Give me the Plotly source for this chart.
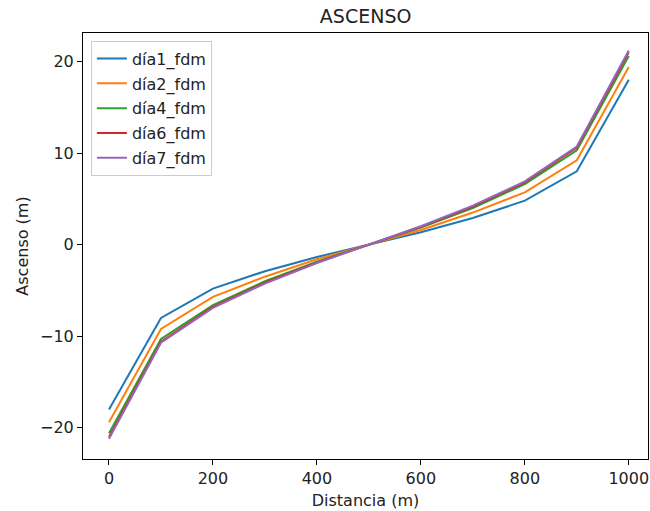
import plotly.graph_objects as go

# Distance along the profile (m)
distancia = [0, 100, 200, 300, 400, 500, 600, 700, 800, 900, 1000]

# Rise (m) for each day, finite-difference solution
dia1_fdm = [-18.0, -8.0, -4.8, -2.9, -1.35, 0.0, 1.35, 2.9, 4.8, 8.0, 18.0]
dia2_fdm = [-19.4, -9.2, -5.7, -3.5, -1.6, 0.0, 1.6, 3.5, 5.7, 9.2, 19.4]
dia4_fdm = [-20.6, -10.3, -6.6, -4.0, -1.85, 0.0, 1.85, 4.0, 6.6, 10.3, 20.6]
dia6_fdm = [-21.0, -10.6, -6.8, -4.15, -1.95, 0.0, 1.95, 4.15, 6.8, 10.6, 21.0]
dia7_fdm = [-21.2, -10.7, -6.9, -4.25, -2.0, 0.0, 2.0, 4.25, 6.9, 10.7, 21.2]

series = [
    ("día1_fdm", dia1_fdm, "#1f77b4"),
    ("día2_fdm", dia2_fdm, "#ff7f0e"),
    ("día4_fdm", dia4_fdm, "#2ca02c"),
    ("día6_fdm", dia6_fdm, "#d62728"),
    ("día7_fdm", dia7_fdm, "#9467bd"),
]

fig = go.Figure()
for name, vals, color in series:
    fig.add_trace(go.Scatter(
        x=distancia, y=vals, mode="lines", name=name, legendgroup=name,
        line=dict(color=color, width=2),
    ))

font = "DejaVu Sans"
axis_common = dict(
    showgrid=False, zeroline=False, showline=True, linecolor="black",
    linewidth=1, mirror=True, ticks="outside", ticklen=5, tickwidth=1,
    tickcolor="black", tickfont=dict(family=font, size=16, color="#222222"),
)

fig.update_layout(
    width=650, height=511,
    margin=dict(l=83, r=2, t=33, b=52),
    paper_bgcolor="white", plot_bgcolor="white",
    title=dict(text="ASCENSO", x=0.5625, xanchor="center", y=0.968, yanchor="middle",
               font=dict(family=font, size=19, color="#222222")),
    font=dict(family=font, size=16, color="#222222"),
    xaxis=dict(range=[-50, 1037], tickvals=[0, 200, 400, 600, 800, 1000],
               title=dict(text="Distancia (m)", font=dict(family=font, size=16), standoff=7),
               **axis_common),
    yaxis=dict(range=[-23.4, 23.1], tickvals=[-20, -10, 0, 10, 20],
               title=dict(text="Ascenso (m)", font=dict(family=font, size=16), standoff=7),
               **axis_common),
    legend=dict(x=0.014, y=0.982, xanchor="left", yanchor="top",
                bgcolor="rgba(255,255,255,0.8)", bordercolor="#cccccc", borderwidth=1,
                font=dict(family=font, size=16), tracegroupgap=1, itemwidth=30,
                traceorder="grouped"),
    showlegend=True,
)

fig.write_html("out.html")
